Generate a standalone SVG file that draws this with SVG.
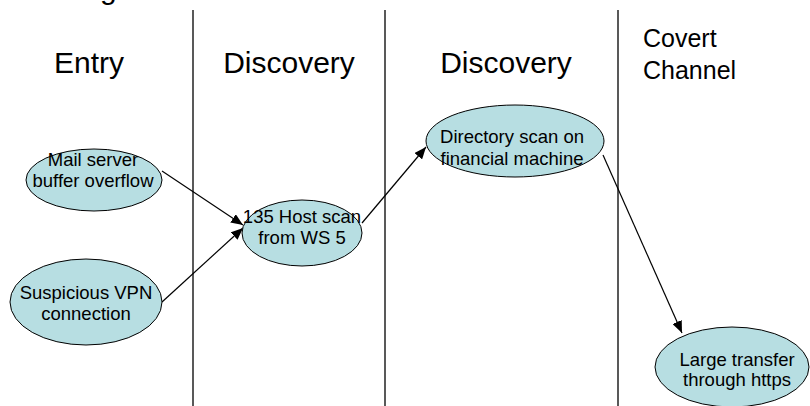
<svg xmlns="http://www.w3.org/2000/svg" width="810" height="406" viewBox="0 0 810 406">
<style>
.hdr{font-family:"Liberation Sans",Arial,sans-serif;font-size:30px;fill:#000}
.hdr2{font-family:"Liberation Sans",Arial,sans-serif;font-size:25px;fill:#000}
.lbl{font-family:"Liberation Sans",Arial,sans-serif;font-size:18.5px;fill:#000;text-anchor:middle}
.node ellipse{fill:#b7dee2;stroke:#000;stroke-width:1}
.lane{stroke:#222;stroke-width:1.5}
.edge{stroke:#000;stroke-width:1.2;fill:none;marker-end:url(#ah)}
</style>
<defs>
<marker id="ah" viewBox="0 0 12 10" refX="12" refY="5" markerWidth="12" markerHeight="10" markerUnits="userSpaceOnUse" orient="auto">
<path d="M0,0 L12,5 L0,10 z" fill="#000"/>
</marker>
</defs>
<rect width="810" height="406" fill="#fff"/>
<text class="hdr" x="100" y="-1">g</text>
<g id="lanes">
<line class="lane" x1="193" y1="10" x2="193" y2="406"/>
<line class="lane" x1="385" y1="10" x2="385" y2="406"/>
<line class="lane" x1="618" y1="10" x2="618" y2="406"/>
</g>
<g id="headers">
<text class="hdr" x="89" y="73" text-anchor="middle">Entry</text>
<text class="hdr" x="289" y="73" text-anchor="middle">Discovery</text>
<text class="hdr" x="506" y="73" text-anchor="middle">Discovery</text>
<text class="hdr2" x="643" y="47">Covert</text>
<text class="hdr2" x="643" y="79">Channel</text>
</g>
<g id="connectors">
<line class="edge" x1="162" y1="171" x2="243" y2="225"/>
<line class="edge" x1="162" y1="302" x2="243" y2="228"/>
<line class="edge" x1="362" y1="223" x2="426" y2="147"/>
<line class="edge" x1="603" y1="155" x2="682" y2="333"/>
</g>
<g id="mail" class="node">
<ellipse cx="94" cy="180" rx="68" ry="31"/>
<text class="lbl" x="93" y="166">Mail server</text>
<text class="lbl" x="93" y="187">buffer overflow</text>
</g>
<g id="vpn" class="node">
<ellipse cx="86" cy="302" rx="76" ry="43"/>
<text class="lbl" x="86" y="299">Suspicious VPN</text>
<text class="lbl" x="86" y="320">connection</text>
</g>
<g id="hostscan" class="node">
<ellipse cx="302" cy="233" rx="60" ry="33"/>
<text class="lbl" x="302" y="223">135 Host scan</text>
<text class="lbl" x="302" y="244">from WS 5</text>
</g>
<g id="dirscan" class="node">
<ellipse cx="515" cy="141" rx="89" ry="36"/>
<text class="lbl" x="512" y="143">Directory scan on</text>
<text class="lbl" x="512" y="165">financial machine</text>
</g>
<g id="transfer" class="node">
<ellipse cx="732" cy="367" rx="77" ry="40"/>
<text class="lbl" x="737" y="366">Large transfer</text>
<text class="lbl" x="737" y="386">through https</text>
</g>
</svg>
